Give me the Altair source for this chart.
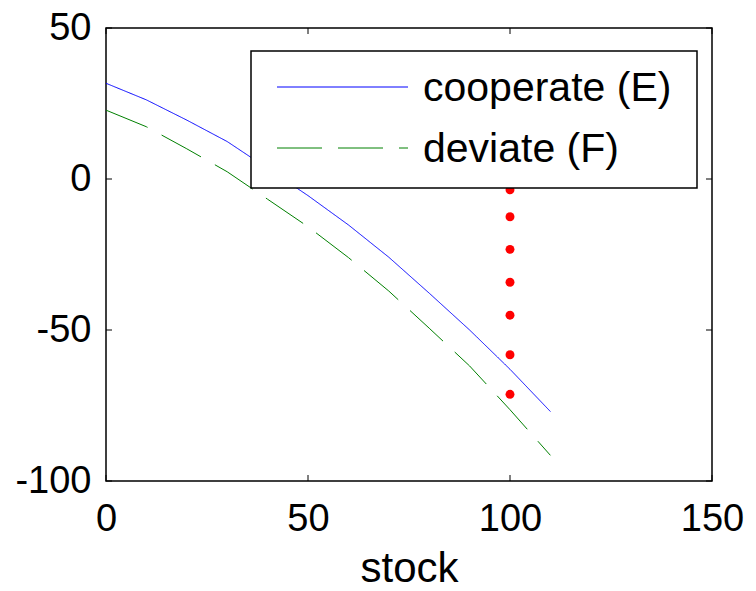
import altair as alt
import pandas as pd

# ---- data ----
stock = [0, 10, 20, 30, 40, 50, 60, 70, 80, 90, 100, 110]
cooperate = [31.7, 26.2, 19.5, 12.4, 3.5, -5.5, -15.2, -25.9, -37.8, -50.0, -63.0, -77.0]
deviate = [22.8, 17.3, 10.0, 2.4, -6.7, -15.8, -26.0, -37.1, -49.4, -61.9, -76.4, -91.5]
dot_stock = [100, 100, 100, 100, 100, 100, 100]
dot_values = [-3.6, -12.5, -23.3, -34.2, -45.1, -58.2, -71.3]
series_names = ["cooperate (E)", "deviate (F)"]
series_colors = ["#0000ff", "#008000"]
x_ticks = [0, 50, 100, 150]
y_ticks = [-100, -50, 0, 50]

W, H = 606, 453
FONT = "Liberation Sans"

lines_df = pd.DataFrame({
    "stock": stock * 2,
    "value": cooperate + deviate,
    "series": [series_names[0]] * len(stock) + [series_names[1]] * len(stock),
})
dots_df = pd.DataFrame({"stock": dot_stock, "value": dot_values})
xt_df = pd.DataFrame({"stock": x_ticks})
yt_df = pd.DataFrame({"value": y_ticks})

xscale = alt.Scale(domain=[0, 150], nice=False, zero=False)
yscale = alt.Scale(domain=[-100, 50], nice=False, zero=False)

xaxis = alt.Axis(values=x_ticks, ticks=False, tickSize=0, domain=False, grid=False,
                 labelFont=FONT, labelFontSize=38, labelColor="black",
                 labelPadding=49, labelBaseline="alphabetic", labelFlush=False,
                 labelOverlap=False, labelExpr="toString(datum.value)",
                 title="stock", titleFont=FONT, titleFontSize=42,
                 titleFontWeight="normal", titleColor="black", titleY=100,
                 titleBaseline="alphabetic")
yaxis = alt.Axis(values=y_ticks, ticks=False, tickSize=0, domain=False, grid=False,
                 labelFont=FONT, labelFontSize=38, labelColor="black",
                 labelPadding=15, labelBaseline="middle", labelFlush=False,
                 labelOverlap=False, labelExpr="toString(datum.value)", title=None)

X = alt.X("stock:Q", scale=xscale, axis=xaxis)
Y = alt.Y("value:Q", scale=yscale, axis=yaxis)

lines = alt.Chart(lines_df).mark_line(strokeWidth=1).encode(
    x=X, y=Y,
    color=alt.Color("series:N", scale=alt.Scale(domain=series_names, range=series_colors), legend=None),
    strokeDash=alt.StrokeDash("series:N", scale=alt.Scale(domain=series_names, range=[[1, 0], [45, 16]]), legend=None),
)

dots = alt.Chart(dots_df).mark_circle(size=80, color="#ff0000", opacity=1).encode(x=X, y=Y)

tick_bottom = alt.Chart(xt_df).mark_rule(color="black", strokeWidth=1).encode(
    x=X, y=alt.value(H), y2=alt.value(H - 6))
tick_top = alt.Chart(xt_df).mark_rule(color="black", strokeWidth=1).encode(
    x=X, y=alt.value(0), y2=alt.value(6))
tick_left = alt.Chart(yt_df).mark_rule(color="black", strokeWidth=1).encode(
    y=Y, x=alt.value(0), x2=alt.value(6))
tick_right = alt.Chart(yt_df).mark_rule(color="black", strokeWidth=1).encode(
    y=Y, x=alt.value(W), x2=alt.value(W - 6))

# ---- legend box (drawn by hand, like the MATLAB legend) ----
leg_df = pd.DataFrame({"name": series_names})
leg_box = alt.Chart(leg_df.head(1)).mark_rect(fill="white", stroke="black", strokeWidth=1.5).encode(
    x=alt.value(145), x2=alt.value(591), y=alt.value(23), y2=alt.value(160))

leg_layers = []
leg_y = [59, 120]
dashes = [[1, 0], [45, 16]]
for i, name in enumerate(series_names):
    one = pd.DataFrame({"name": [name]})
    leg_layers.append(
        alt.Chart(one).mark_rule(color=series_colors[i], strokeWidth=1, strokeDash=dashes[i]).encode(
            x=alt.value(171), x2=alt.value(302), y=alt.value(leg_y[i]))
    )
    leg_layers.append(
        alt.Chart(one).mark_text(font=FONT, fontSize=41, align="left", baseline="alphabetic",
                                 color="black").encode(
            x=alt.value(317), y=alt.value(leg_y[i] + 14), text="name:N")
    )

chart = alt.layer(
    lines, dots, tick_bottom, tick_top, tick_left, tick_right, leg_box, *leg_layers
).properties(
    width=W, height=H,
    autosize=alt.AutoSizeParams(type="none"),
    padding={"left": 106, "top": 28, "right": 44, "bottom": 110},
    background="white",
).configure_view(stroke="black", strokeWidth=1.5)

chart.save("out.html", embed_options={"renderer": "svg", "actions": False})
